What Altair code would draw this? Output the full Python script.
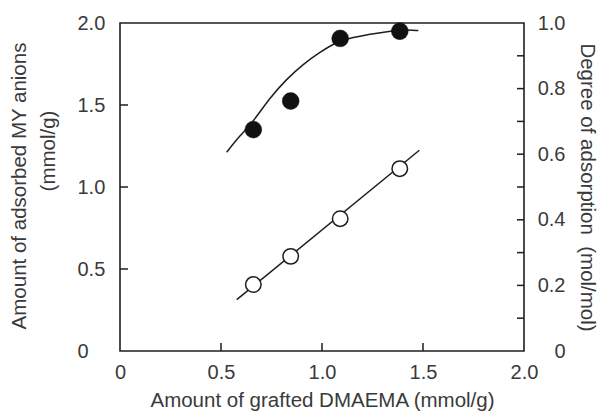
import altair as alt
import pandas as pd

# ---- data ----
x_grafted = [0.66, 0.845, 1.09, 1.385]            # Amount of grafted DMAEMA (mmol/g)
amount_adsorbed = [0.405, 0.577, 0.807, 1.112]    # open circles, left axis (mmol/g)
degree_adsorption = [0.675, 0.762, 0.953, 0.975]  # filled circles, right axis (mol/mol)

fit_amount_x = [0.578, 1.482]
fit_amount_y = [0.313, 1.224]

fit_degree_x = [0.528, 0.594, 0.657, 0.743, 0.825, 0.907, 0.990, 1.073, 1.155, 1.238, 1.320, 1.419, 1.477]
fit_degree_y = [0.606, 0.657, 0.697, 0.773, 0.829, 0.875, 0.911, 0.943, 0.956, 0.966, 0.974, 0.980, 0.977]

x_tick_values = [0, 0.5, 1.0, 1.5, 2.0]
left_tick_values = [0, 0.5, 1.0, 1.5, 2.0]
right_tick_values = [0, 0.2, 0.4, 0.6, 0.8, 1.0]
x_inner_ticks = [0.5, 1.0, 1.5]
left_inner_ticks = [0.5, 1.0, 1.5]
right_inner_ticks = [0.1, 0.2, 0.3, 0.4, 0.5, 0.6, 0.7, 0.8, 0.9]

x_title = "Amount of grafted DMAEMA (mmol/g)"
left_title = ["Amount of adsorbed MY anions", "(mmol/g)"]
right_title = "Degree of adsorption\u00a0 (mol/mol)"

# ---- tables ----
pts = pd.DataFrame({"x": x_grafted, "amount": amount_adsorbed, "degree": degree_adsorption})
fitA = pd.DataFrame({"x": fit_amount_x, "amount": fit_amount_y})
fitD = pd.DataFrame({"x": fit_degree_x, "degree": fit_degree_y})
xt = pd.DataFrame({"x": x_inner_ticks})
lt = pd.DataFrame({"amount": left_inner_ticks})
rt = pd.DataFrame({"degree": right_inner_ticks})
lt1 = pd.DataFrame({"t": [left_title[0]]})
lt2 = pd.DataFrame({"t": [left_title[1]]})

W, H = 404, 328
INK = "#1e1e1e"
TXT = "#3a3a3a"
FONT = "Liberation Sans"
FS = 20
TFS = 20.5

xs = alt.Scale(domain=[0, 2], nice=False, zero=False)
ysL = alt.Scale(domain=[0, 2], nice=False)
ysR = alt.Scale(domain=[0, 1], nice=False)

lab0 = "datum.value == 0 ? '0' : format(datum.value, '.1f')"

x_axis = alt.Axis(values=x_tick_values, labelExpr=lab0, ticks=False, labelFlush=False,
                  domain=False, grid=False, labelPadding=11, title=x_title, titlePadding=8)
yL_axis = alt.Axis(values=left_tick_values, labelExpr=lab0, ticks=False, orient="left",
                   labelFlush=False, domain=False, grid=False, labelAlign="left",
                   labelPadding=43, title=None)
yR_axis = alt.Axis(values=right_tick_values, labelExpr=lab0, ticks=False, labelFlush=False,
                   domain=False, grid=False, labelAlign="right", labelPadding=41,
                   orient="right", title=right_title, titlePadding=11)

X = alt.X("x:Q", scale=xs, axis=x_axis)
YL = alt.Y("amount:Q", scale=ysL, axis=yL_axis)
YR = alt.Y("degree:Q", scale=ysR, axis=yR_axis)

# group A: left axis (amount adsorbed)
lineA = alt.Chart(fitA).mark_line(color=INK, strokeWidth=1.5).encode(x=X, y=YL)
ptsA = alt.Chart(pts).mark_point(shape="circle", filled=True, fill="white", stroke=INK,
                                 strokeWidth=1.5, size=240, opacity=1).encode(x=X, y=YL)
tickX = alt.Chart(xt).mark_rule(color=INK, strokeWidth=1.5).encode(
    x=X, y=alt.value(H), y2=alt.value(H - 8))
tickL = alt.Chart(lt).mark_rule(color=INK, strokeWidth=1.5).encode(
    y=YL, x=alt.value(0), x2=alt.value(8))
title1 = alt.Chart(lt1).mark_text(angle=270, font=FONT, fontSize=TFS, color=TXT,
                                  align="center", baseline="middle").encode(
    text="t:N", x=alt.value(-100), y=alt.value(163))
title2 = alt.Chart(lt2).mark_text(angle=270, font=FONT, fontSize=TFS, color=TXT,
                                  align="center", baseline="middle").encode(
    text="t:N", x=alt.value(-71), y=alt.value(128))

groupA = alt.layer(lineA, ptsA, tickX, tickL, title1, title2)

# group B: right axis (degree of adsorption)
lineD = alt.Chart(fitD).mark_line(color=INK, strokeWidth=1.5, interpolate="basis").encode(x=X, y=YR)
ptsD = alt.Chart(pts).mark_point(shape="circle", filled=True, fill="#111111", stroke="#111111",
                                 strokeWidth=0.5, size=285, opacity=1).encode(x=X, y=YR)
tickR = alt.Chart(rt).mark_rule(color=INK, strokeWidth=1.5).encode(
    y=YR, x=alt.value(W), x2=alt.value(W - 7))
groupB = alt.layer(lineD, ptsD, tickR)

chart = alt.layer(groupA, groupB).resolve_scale(y="independent").properties(
    width=W, height=H,
    autosize=alt.AutoSizeParams(type="none"),
    padding={"left": 120, "top": 23, "right": 74, "bottom": 62},
    background="white",
).configure_view(
    stroke=INK, strokeWidth=1.6
).configure_axis(
    labelFont=FONT, labelFontSize=FS, labelColor=TXT,
    titleFont=FONT, titleFontSize=TFS, titleFontWeight="normal", titleColor=TXT,
)

chart.save("out.html", embed_options={"renderer": "svg", "actions": False})
